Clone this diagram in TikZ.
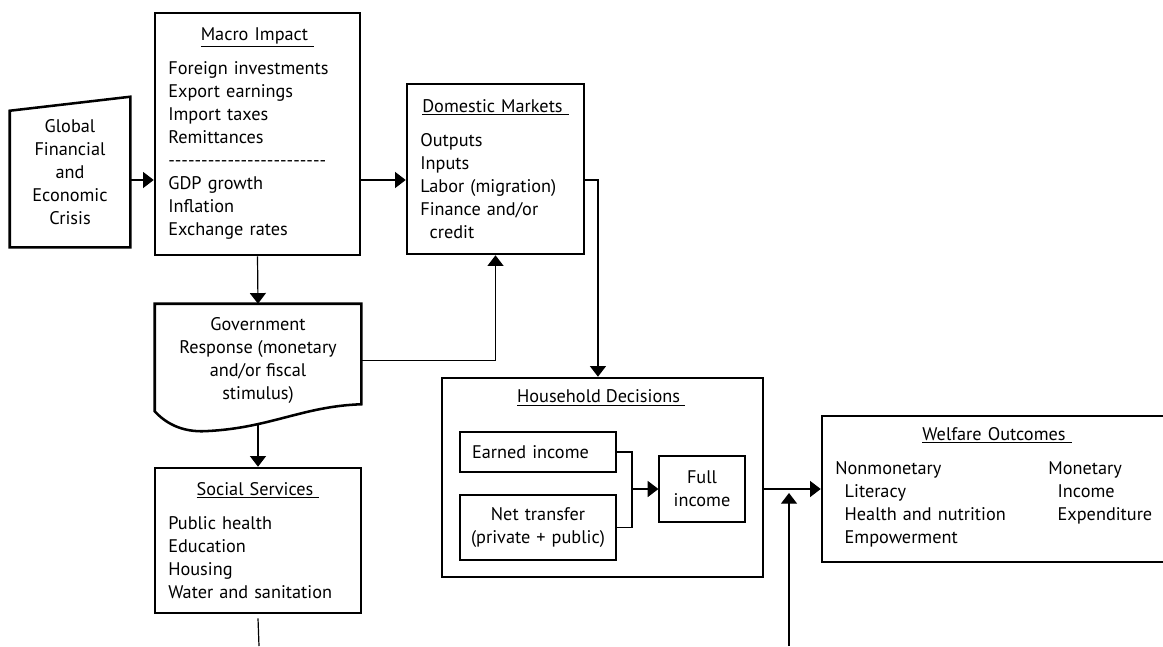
\documentclass[tikz,border=0pt]{standalone}
\usepackage{fontspec}
\setmainfont{PT Sans}
\usetikzlibrary{arrows.meta,calc,positioning}

\tikzstyle{bigbox} = [rectangle, draw=black, line width=1.9pt, inner xsep=10pt, inner ysep=0pt, align=left]
\tikzstyle{smallbox} = [rectangle, draw=black, line width=0.9pt, inner xsep=9pt, inner ysep=0pt]
\tikzstyle{plain} = [inner sep=0pt, align=center]
\tikzstyle{outline} = [draw=black, line width=1.9pt]
\tikzstyle{arrow} = [line width=0.9pt, -{Triangle[width=12pt,length=8pt]}]
\tikzstyle{line} = [line width=0.9pt]

\newcommand{\boxtitle}[1]{\noindent\makebox[\linewidth]{\underline{#1\ }}\\[8.25pt]}
\newcommand{\dashrow}{\foreach \k in {1,...,24}{\mbox{-}}}

\begin{document}
\begin{tikzpicture}[x=0.75pt, y=-0.75pt, font=\fontsize{13.7}{17.25}\selectfont]
	\useasboundingbox (0,0) rectangle (1163,646);

	% shock and macro level
	\node (crisis) [plain, minimum width=90pt, minimum height=112.5pt] at (70,172) {Global\\Financial\\and\\Economic\\Crisis};
	\draw [outline] (crisis.south west) -- ($(crisis.north west)+(0,14)$) -- (crisis.north east) -- (crisis.south east) -- cycle;

	\node (macro) [bigbox, text width=133.75pt, minimum width=153.75pt, minimum height=181.5pt] at (257.5,134) {\boxtitle{Macro Impact}Foreign investments\\Export earnings\\Import taxes\\Remittances\\\dashrow\\GDP growth\\Inflation\\Exchange rates};

	\node (domestic) [bigbox, text width=112.75pt, minimum width=132.75pt, minimum height=127.5pt] at (495.5,169) {\boxtitle{Domestic Markets}Outputs\\Inputs\\Labor (migration)\\Finance and/or\\\hspace*{7pt}credit};

	% government and services
	\node (gov) [plain, minimum width=154.5pt, minimum height=84.75pt] at (258,360.5) {Government\\Response (monetary\\and/or fiscal\\stimulus)};
	\draw [outline] (gov.north west) -- (gov.north east) -- ($(gov.south east)+(0,-13)$)
		.. controls ($(gov.south east)+(-60,-11)$) and ($(gov.south)+(10,12)$) .. ($(gov.south west)+(47,14)$)
		.. controls ($(gov.south west)+(25,14)$) and ($(gov.south west)+(10,5)$) .. ($(gov.south west)+(0,-6)$) -- cycle;

	\node (social) [bigbox, text width=134.5pt, minimum width=154.5pt, minimum height=108.75pt] at (258,540.5) {\boxtitle{Social Services}Public health\\Education\\Housing\\Water and sanitation};
	\coordinate (socialtail) at (259,646);

	% household level
	\node (household) [bigbox, minimum width=240.75pt, minimum height=149.25pt] at (602.5,477.5) {};
	\node (hhtitle) [plain] at ($(household.north)+(-1.5,21)$) {\underline{Household Decisions\ }};
	\node (earned) [smallbox, text width=99pt, align=left, minimum height=30pt] at (538,452) {Earned income};
	\node (transfer) [smallbox, inner xsep=2pt, text width=113pt, align=center, minimum height=48.75pt] at (538,527.5) {Net transfer\\(private + public)};
	\node (full) [smallbox, inner xsep=0pt, align=center, minimum width=64.5pt, minimum height=49.5pt] at (702,489) {Full\\income};
	\coordinate (join) at (632,489);

	% outcomes
	\node (welfare) [bigbox, text width=242.5pt, minimum width=262.5pt, minimum height=109.5pt] at (997,489) {\boxtitle{Welfare Outcomes}\begin{tabular}[t]{@{}p{159.75pt}@{}l@{}}
		Nonmonetary & Monetary\\
		\hspace*{7pt}Literacy & \hspace*{7pt}Income\\
		\hspace*{7pt}Health and nutrition & \hspace*{7pt}Expenditure\\
		\hspace*{7pt}Empowerment &
	\end{tabular}};
	\coordinate (meet) at (789,489);
	\coordinate (outtail) at (789,646);

	\draw [arrow] ([yshift=-6pt]crisis.east) -- ([yshift=-6pt]crisis.east -| macro.west);
	\draw [arrow] ([yshift=-8.25pt]domestic.west -| macro.east) -- ([yshift=-8.25pt]domestic.west);
	\draw [arrow] ([yshift=-8.25pt]domestic.east) -| ([xshift=-3.4pt]household.north);
	\draw [arrow] (macro.south) -- (gov.north);
	\draw [arrow] (gov.east) -| (domestic.south);
	\draw [arrow] ($(gov.south)+(0,6)$) -- (social.north);
	\draw [line] ([yshift=-3pt]social.south) -- (socialtail);

	\draw [line] (earned.east) -| (join) |- (transfer.east);
	\draw [arrow] (join) -- (full.west);
	\draw [arrow] (household.east |- full.east) -- (welfare.west);
	\draw [arrow] (outtail) -- ([yshift=-3pt]meet);
\end{tikzpicture}
\end{document}
